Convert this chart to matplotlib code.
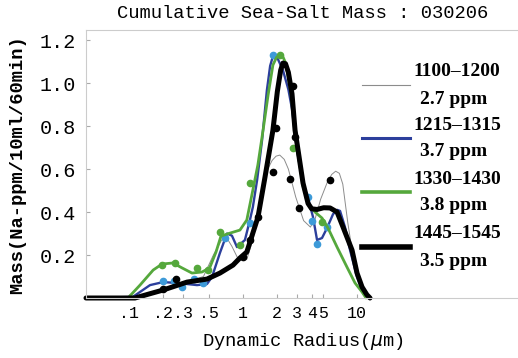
import numpy as np
import matplotlib.pyplot as plt
from matplotlib.lines import Line2D

# radius (um) / mass values for each sampling period
r_1100 = [0.042, 0.13, 0.16, 0.2, 0.3, 0.45, 0.55, 0.65, 0.72, 0.8, 0.89, 1.0, 1.08, 1.22,
          1.35, 1.5, 1.65, 1.8, 1.95, 2.1, 2.3, 2.5, 2.9, 3.4, 3.9, 4.3, 4.8, 5.5, 6.0, 6.5,
          7.0, 7.5, 8.3, 9.5, 10.8, 12.0, 13.0]
m_1100 = [0.0, 0.0, 0.02, 0.045, 0.07, 0.1, 0.2, 0.27, 0.28, 0.24, 0.19, 0.18, 0.18, 0.27,
          0.38, 0.52, 0.6, 0.64, 0.66, 0.665, 0.645, 0.6, 0.47, 0.36, 0.33, 0.37, 0.46, 0.54, 0.575, 0.59,
          0.58, 0.53, 0.35, 0.15, 0.05, 0.01, 0.0]
dot_r_1100 = [1.83, 2.58, 3.1, 5.8]
dot_m_1100 = [0.586, 0.553, 0.419, 0.549]

r_1215 = [0.042, 0.108, 0.153, 0.199, 0.264, 0.395, 0.483, 0.535, 0.628, 0.724, 0.8, 0.886,
          1.04, 1.15, 1.22, 1.33, 1.47, 1.62, 1.73, 1.83, 1.93, 2.03, 2.24, 2.5, 2.69, 2.86,
          3.04, 3.36, 3.72, 4.11, 4.46, 4.93, 5.46, 6.16, 6.7, 7.1, 7.84, 8.68, 10.0, 11.3, 12.5]
m_1215 = [0.0, 0.005, 0.06, 0.074, 0.07, 0.06, 0.065, 0.098, 0.21, 0.3, 0.29, 0.237,
          0.27, 0.363, 0.423, 0.549, 0.735, 0.967, 1.08, 1.125, 1.13, 1.11, 1.06, 0.97, 0.88, 0.76,
          0.66, 0.53, 0.465, 0.377, 0.27, 0.279, 0.326, 0.39, 0.41, 0.405, 0.33, 0.223, 0.098, 0.023, 0.0]
dot_r_1215 = [0.2, 0.25, 0.29, 0.37, 0.45, 0.7, 1.15, 1.85, 3.7, 4.0, 4.5, 5.5]
dot_m_1215 = [0.08, 0.08, 0.05, 0.09, 0.07, 0.28, 0.35, 1.13, 0.47, 0.36, 0.25, 0.33]

r_1330 = [0.042, 0.098, 0.125, 0.163, 0.195, 0.243, 0.292, 0.357, 0.437, 0.51, 0.58, 0.641,
          0.769, 0.94, 1.08, 1.22, 1.35, 1.5, 1.66, 1.83, 1.97, 2.11, 2.25, 2.38, 2.64, 2.86,
          3.04, 3.36, 3.79, 4.28, 4.93, 5.56, 6.68, 8.16, 9.6, 11.07, 12.0]
m_1330 = [0.0, 0.0, 0.06, 0.13, 0.158, 0.163, 0.14, 0.116, 0.121, 0.14, 0.214, 0.288,
          0.302, 0.316, 0.363, 0.502, 0.619, 0.781, 0.944, 1.084, 1.12, 1.13, 1.12, 1.09, 0.95, 0.77,
          0.67, 0.52, 0.433, 0.4, 0.372, 0.326, 0.237, 0.144, 0.07, 0.028, 0.0]
dot_r_1330 = [0.195, 0.253, 0.395, 0.49, 0.628, 0.94, 1.15, 2.11, 2.75, 4.93]
dot_m_1330 = [0.153, 0.163, 0.14, 0.13, 0.307, 0.247, 0.535, 1.13, 0.70, 0.353]

r_1445 = [0.042, 0.113, 0.153, 0.199, 0.323, 0.483, 0.628, 0.817, 0.94, 1.08, 1.22, 1.354,
          1.56, 1.7, 1.83, 2.0, 2.14, 2.24, 2.36, 2.5, 2.69, 2.86, 3.04, 3.36, 3.72, 4.0, 4.46,
          5.1, 5.8, 6.68, 7.54, 9.04, 10.0, 11.07, 12.2, 13.0]
m_1445 = [0.0, 0.0, 0.02, 0.037, 0.074, 0.088, 0.116, 0.153, 0.186, 0.214, 0.302, 0.377,
          0.563, 0.68, 0.781, 0.96, 1.06, 1.093, 1.09, 1.05, 0.95, 0.781, 0.688, 0.535, 0.44, 0.415, 0.412,
          0.42, 0.419, 0.40, 0.33, 0.223, 0.116, 0.051, 0.015, 0.0]
dot_r_1445 = [0.2, 0.26, 1.0, 1.15, 1.35, 1.95, 2.75, 2.86]
dot_m_1445 = [0.04, 0.09, 0.19, 0.27, 0.375, 0.79, 0.986, 0.75]

labels = [("1100\u20131200", "2.7 ppm"), ("1215\u20131315", "3.7 ppm"),
          ("1330\u20131430", "3.8 ppm"), ("1445\u20131545", "3.5 ppm")]

xticks = [0.1, 0.2, 0.3, 0.5, 1, 2, 3, 4, 5, 10]
xticklabels = [".1", ".2", ".3", ".5", "1", "2", "3", "4", "5", "10"]
yticks = [0.2, 0.4, 0.6, 0.8, 1.0, 1.2]

blue = "#2c3f9c"
cyan = "#3d9ad8"
green = "#55a83c"
gray = "#8c8c8c"

mono = "Liberation Mono"
serif = "Liberation Serif"

fig = plt.figure(figsize=(5.18, 3.58), dpi=100)
ax = fig.add_axes([86/518, 1 - 298/358, 1 - 86/518, 268/358])

kw = dict(solid_joinstyle="round", solid_capstyle="round", clip_on=False)
ax.plot(r_1100, m_1100, color=gray, lw=0.7, **kw)
ax.plot(dot_r_1100, dot_m_1100, "o", color="black", ms=4.5, clip_on=False)
ax.plot(r_1215, m_1215, color=blue, lw=1.7, **kw)
ax.plot(dot_r_1215, dot_m_1215, "o", color=cyan, ms=4.5, clip_on=False)
ax.plot(r_1330, m_1330, color=green, lw=2.0, **kw)
ax.plot(dot_r_1330, dot_m_1330, "o", color=green, ms=4.5, clip_on=False)
ax.plot(r_1445, m_1445, color="black", lw=3.6, **kw)
ax.plot(dot_r_1445, dot_m_1445, "o", color="black", ms=4.5, clip_on=False)

ax.set_xscale("log")
ax.set_xlim(0.042, 258)
ax.set_ylim(0, 1.247)
ax.set_xticks(xticks)
ax.set_xticklabels(xticklabels, fontfamily=mono, fontsize=12)
ax.xaxis.set_minor_locator(plt.NullLocator())
ax.set_yticks(yticks)
ax.set_yticklabels([f"{v:.1f}" for v in yticks], fontfamily=mono, fontsize=14.5)
ax.tick_params(axis="y", direction="in", length=3, color="#aaaaaa", pad=7)
ax.tick_params(axis="x", direction="in", length=3, color="#aaaaaa", pad=6)
for side in ("left", "top", "bottom"):
    ax.spines[side].set_color("#cccccc")
    ax.spines[side].set_linewidth(0.8)
ax.spines["right"].set_visible(False)

fig.text(303/518, 1 - 13/358, "Cumulative Sea-Salt Mass : 030206",
         fontfamily=mono, fontsize=13.5, ha="center", va="center")
fig.text(303/518, 1 - 342/358, r"Dynamic Radius($\mu$m)",
         fontfamily=mono, fontsize=13.5, ha="center", va="center")
fig.text(18/518, 1 - 165/358, "Mass(Na-ppm/10ml/60min)", rotation=90,
         fontfamily=mono, fontsize=13.5, fontweight="bold", ha="center", va="center")

# legend drawn by hand: line sample on the left, two centred text rows
handles = [(gray, 0.8), (blue, 2.2), (green, 2.6), ("black", 4.0)]
line_y = [85, 138, 192, 247]
for (c, w), y, (top, bottom) in zip(handles, line_y, labels):
    fy = 1 - y/358
    fig.add_artist(Line2D([362/518, 410/518], [fy, fy], color=c, lw=w,
                          transform=fig.transFigure))
    fig.text(457/518, 1 - (y - 13)/358, top, fontfamily=serif, fontweight="bold",
             fontsize=14, ha="center", va="center")
    fig.text(454/518, 1 - (y + 14)/358, bottom, fontfamily=serif, fontweight="bold",
             fontsize=14, ha="center", va="center")

fig.savefig("out.png", dpi=100)
